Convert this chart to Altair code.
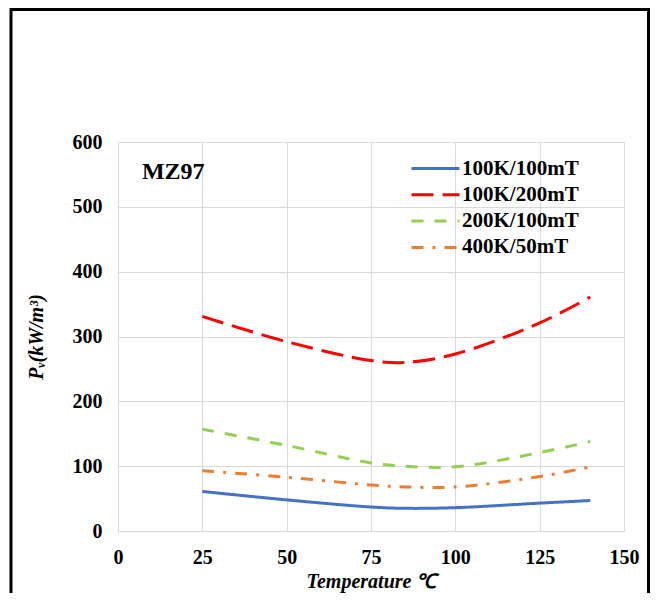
import altair as alt
import pandas as pd

temps = [25, 50, 75, 85, 100, 125, 140]
s_100k_100mt = [61, 48, 37, 35, 36, 43, 47]
s_100k_200mt = [331, 292, 263, 260, 273, 321, 361]
s_200k_100mt = [157, 132, 105, 100, 99, 121, 138]
s_400k_50mt = [93, 83, 71, 68, 68, 84, 99]

series_names = ["100K/100mT", "100K/200mT", "200K/100mT", "400K/50mT"]
series_values = [s_100k_100mt, s_100k_200mt, s_200k_100mt, s_400k_50mt]
series_colors = ["#4472C4", "#FF0000", "#92D050", "#ED7D31"]
series_dashes = [[1, 0], [22, 9], [12, 11], [12, 9, 3, 9]]

x_ticks = [0, 25, 50, 75, 100, 125, 150]
y_ticks = [0, 100, 200, 300, 400, 500, 600]

rows = []
for name, vals in zip(series_names, series_values):
    for t, v in zip(temps, vals):
        rows.append({"T": t, "P": v, "series": name})
df = pd.DataFrame(rows)

W, H = 506, 389
FONT = "Liberation Serif"

xscale = alt.Scale(domain=[0, 150], nice=False)
yscale = alt.Scale(domain=[0, 600], nice=False)

legend_opts = dict(title=None, orient="none", legendX=304, legendY=13,
                   symbolType="M-2,0H2", symbolSize=576,
                   symbolStrokeWidth=3, labelOffset=13,
                   labelFont=FONT, labelFontWeight="bold",
                   labelFontSize=21, labelColor="black",
                   rowPadding=2.3, padding=0)

lines = alt.Chart(df).mark_line(strokeWidth=3, interpolate="catmull-rom").encode(
    x=alt.X("T:Q", scale=xscale,
            axis=alt.Axis(values=x_ticks, title="Temperature ℃", titleFontStyle="italic",
                          titleFont=FONT, titleFontWeight="bold", titleFontSize=20,
                          titleY=50, titleBaseline="middle", titleColor="black",
                          labelFont=FONT, labelFontWeight="bold", labelFontSize=20,
                          labelColor="black", labelPadding=16, ticks=False,
                          domainColor="#d9d9d9", gridColor="#d9d9d9", labelFlush=False)),
    y=alt.Y("P:Q", scale=yscale,
            axis=alt.Axis(values=y_ticks, title="Pᵥ(kW/m³)", titleFontStyle="italic",
                          titleFont=FONT, titleFontWeight="bold", titleFontSize=20,
                          titleX=-82, titleY=H / 2, titleAngle=270, titleAlign="center",
                          titleBaseline="middle", titleColor="black",
                          labelFont=FONT, labelFontWeight="bold", labelFontSize=20,
                          labelColor="black", labelPadding=16, ticks=False,
                          domainColor="#d9d9d9", gridColor="#d9d9d9", labelFlush=False)),
    color=alt.Color("series:N",
                    scale=alt.Scale(domain=series_names, range=series_colors),
                    legend=alt.Legend(**legend_opts)),
    strokeDash=alt.StrokeDash("series:N",
                              scale=alt.Scale(domain=series_names, range=series_dashes),
                              legend=alt.Legend(**legend_opts)),
    order=alt.Order("T:Q"),
)

label_df = pd.DataFrame({"T": [7.1], "P": [554], "txt": ["MZ97"]})
label = alt.Chart(label_df).mark_text(font=FONT, fontWeight="bold", fontSize=24,
                                      align="left", baseline="middle", color="black").encode(
    x=alt.X("T:Q", scale=xscale), y=alt.Y("P:Q", scale=yscale), text="txt:N")

border = alt.Chart(pd.DataFrame({"a": [0]})).mark_rect(
    filled=False, stroke="black", strokeWidth=3).encode(
    x=alt.value(-107), x2=alt.value(530.5), y=alt.value(-132.5), y2=alt.value(H + 120))

chart = alt.layer(lines, label, border).properties(
    width=W, height=H,
    padding={"left": 110, "top": 134, "right": 26, "bottom": 62},
    autosize=alt.AutoSizeParams(type="none"),
).configure_view(stroke=None).configure(background="white")

chart.save("out.html", embed_options={"renderer": "svg", "actions": False})
